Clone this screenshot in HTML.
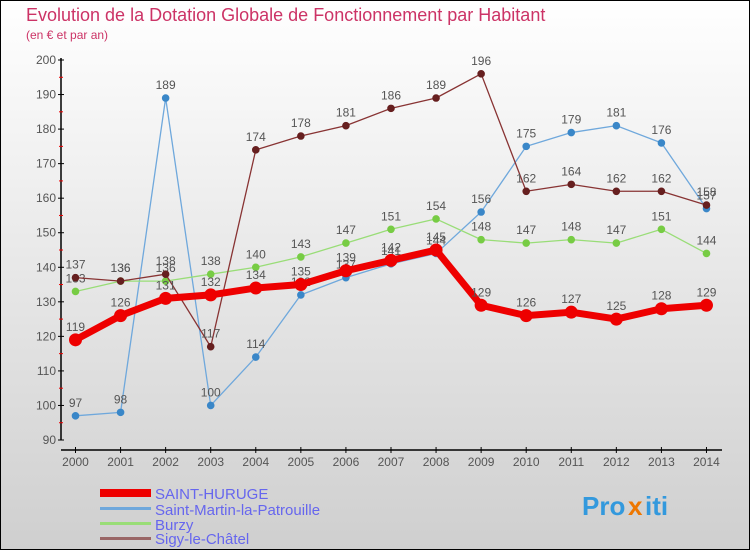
<!DOCTYPE html>
<html><head><meta charset="utf-8"><style>
body{margin:0;}
#c{width:750px;height:550px;position:relative;overflow:hidden;font-family:"Liberation Sans",sans-serif;}
</style></head><body>
<div id="c">
<svg id="s" width="750" height="550" xmlns="http://www.w3.org/2000/svg">
<defs><linearGradient id="bg" x1="0" y1="0" x2="0" y2="1"><stop offset="0" stop-color="#ffffff"/><stop offset="1" stop-color="#cfcfcf"/></linearGradient></defs>
<rect x="0.5" y="0.5" width="749" height="549" fill="url(#bg)" stroke="#000"/>
<text x="26" y="21" font-size="18" fill="#cc3366">Evolution de la Dotation Globale de Fonctionnement par Habitant</text>
<text x="26" y="39" font-size="12" fill="#cc3366">(en € et par an)</text>
<g id="axes"></g><g id="series"></g>
<g id="legend" font-size="15" fill="#6666ee">
<rect x="100" y="489" width="51" height="8" fill="#ee0000"/>
<text x="155" y="499">SAINT-HURUGE</text>
<rect x="100" y="507" width="51" height="3" fill="#6fa8dc"/>
<text x="155" y="515">Saint-Martin-la-Patrouille</text>
<rect x="100" y="522" width="51" height="3" fill="#99dd77"/>
<text x="155" y="530">Burzy</text>
<rect x="100" y="537" width="51" height="3" fill="#996666"/>
<text x="155" y="544">Sigy-le-Châtel</text>
</g>
<g font-size="26" font-weight="bold">
<text x="582" y="515" fill="#3399dd">Pro</text><text x="628" y="515" fill="#ee7700">x</text><text x="645" y="515" fill="#3399dd">iti</text>
</g>
</svg>
</div>
<script>
const years=[2000,2001,2002,2003,2004,2005,2006,2007,2008,2009,2010,2011,2012,2013,2014];
const yTicks=[90,100,110,120,130,140,150,160,170,180,190,200];
const sainthuruge=[119,126,131,132,134,135,139,142,145,129,126,127,125,128,129];
const saintmartin=[97,98,189,100,114,132,137,141,144,156,175,179,181,176,157];
const burzy=[133,136,136,138,140,143,147,151,154,148,147,148,147,151,144];
const sigy=[137,136,138,117,174,178,181,186,189,196,162,164,162,162,158];
const NS="http://www.w3.org/2000/svg";
function X(i){return 75.5+i*45.07;}
function Y(v){return 440-(v-90)*3.4545;}
function mk(t,a,p){const e=document.createElementNS(NS,t);for(const k in a)e.setAttribute(k,a[k]);p.appendChild(e);return e;}
const ax=document.getElementById('axes');
let e=mk('line',{x1:61,y1:58,x2:61,y2:440,stroke:'#000','stroke-width':1.5},ax);


e=mk('line',{x1:61,y1:450,x2:722,y2:450,stroke:'#000','stroke-width':1.5},ax);


yTicks.forEach((v,i)=>{
 mk('line',{x1:58,y1:Y(v),x2:64,y2:Y(v),stroke:'#000'},ax);
 if(i<yTicks.length-1)mk('line',{x1:59,y1:Y(v+5),x2:63,y2:Y(v+5),stroke:'#e00'},ax);
 const t=mk('text',{x:56,y:Y(v)+4,'text-anchor':'end','font-size':12,fill:'#555'},ax);t.textContent=v;
 
 
});
years.forEach((y,i)=>{
 mk('line',{x1:X(i),y1:447,x2:X(i),y2:453,stroke:'#000'},ax);
 const t=mk('text',{x:X(i),y:466,'text-anchor':'middle','font-size':12,fill:'#555'},ax);t.textContent=y;
 
 
});
const sg=document.getElementById('series');
function draw(vals,color,dot,w,r,name){
 const g=mk('g',{},sg);
 
 
 mk('polyline',{points:vals.map((v,i)=>X(i)+','+Y(v)).join(' '),fill:'none',stroke:color,'stroke-width':w,'stroke-linejoin':'round'},g);
 vals.forEach((v,i)=>{
  const c=mk('circle',{cx:X(i),cy:Y(v),r:r,fill:dot,stroke:dot},g);
  
  
  const t=mk('text',{x:X(i),y:Y(v)-9,'text-anchor':'middle','font-size':12,fill:'#555'},g);t.textContent=v;
  
  
 });
}
draw(saintmartin,'#6fa8dc','#3a87c8',1.3,3.3,'saint-martin');
draw(burzy,'#99dd77','#77cc44',1.3,3.3,'burzy');
draw(sigy,'#883333','#661f1f',1.3,3.3,'sigy');
draw(sainthuruge,'#ee0000','#ee0000',7,6,'saint-huruge');
</script>
</body></html>
